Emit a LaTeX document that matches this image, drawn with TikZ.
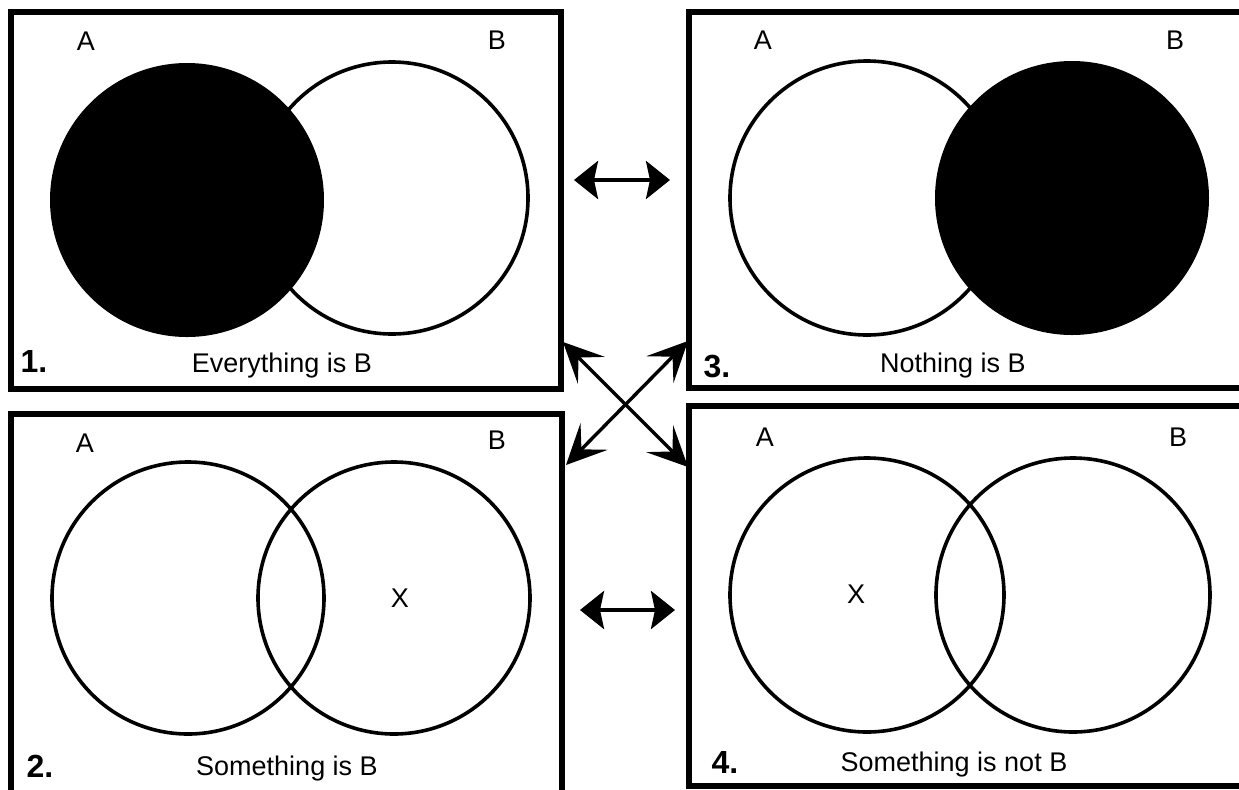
\documentclass[tikz,border=0pt]{standalone}
\usepackage{fontspec}
\setmainfont{Liberation Sans}
\usetikzlibrary{arrows.meta}

\begin{document}
\begin{tikzpicture}[x=0.5pt,y=-0.5pt,
  panel/.style={line width=2.6pt},
  ring/.style={line width=1.8pt},
  lbl/.style={font=\fontsize{13.5}{16}\selectfont, anchor=base},
  num/.style={font=\fontsize{16}{19}\selectfont\bfseries, anchor=base},
  hlink/.style={line width=2pt,
    {Stealth[length=12pt,width=19pt,inset=2pt]}-{Stealth[length=12pt,width=19pt,inset=2pt]}},
  xlink/.style={line width=1.7pt,
    {Stealth[length=20pt,width=19pt,inset=9pt]}-{Stealth[length=20pt,width=19pt,inset=9pt]}}]
  \useasboundingbox (0,0) rectangle (1239,789);

  % Panels
  \draw[panel] (11,12) rectangle (561,389);
  \draw[panel] (11,414) rectangle (562,800);
  \draw[panel] (689,12) rectangle (1244,388);
  \draw[panel] (689,406) rectangle (1244,786);

  % 1. Everything is B
  \draw[ring] (392,198) circle (136);
  \fill (187,200) circle (137);
  \node[lbl] (a1) at (86,50) {A};
  \node[lbl] (b1) at (497,49) {B};
  \node[num] (n1) at (34,372) {1.};
  \node[lbl] (t1) at (282,372) {Everything is B};

  % 3. Nothing is B
  \draw[ring] (867,198) circle (137);
  \fill (1072,198) circle (137);
  \node[lbl] (a3) at (763,49) {A};
  \node[lbl] (b3) at (1175,49) {B};
  \node[num] (n3) at (717,377) {3.};
  \node[lbl] (t3) at (953,372) {Nothing is B};

  % 2. Something is B
  \draw[ring] (188,598) circle (136);
  \draw[ring] (394,598) circle (136);
  \node[lbl] (a2) at (85,452) {A};
  \node[lbl] (b2) at (497,449) {B};
  \node[lbl] (x2) at (400,607) {X};
  \node[num] (n2) at (40,777) {2.};
  \node[lbl] (t2) at (287,775) {Something is B};

  % 4. Something is not B
  \draw[ring] (867,595) circle (137);
  \draw[ring] (1073,595) circle (137);
  \node[lbl] (a4) at (765,446) {A};
  \node[lbl] (b4) at (1178,446) {B};
  \node[lbl] (x4) at (856,603) {X};
  \node[num] (n4) at (725,773) {4.};
  \node[lbl] (t4) at (954,771) {Something is not B};

  % Arrows
  \coordinate (h1) at (574,180);
  \coordinate (h3) at (670,180);
  \coordinate (h2) at (580,610);
  \coordinate (h4) at (675,610);
  \coordinate (d1) at (563,342);
  \coordinate (d4) at (688,467);
  \coordinate (d3) at (688,341);
  \coordinate (d2) at (566,465);
  \draw[hlink] (h1) -- (h3);
  \draw[hlink] (h2) -- (h4);
  \draw[xlink] (d1) -- (d4);
  \draw[xlink] (d3) -- (d2);
\end{tikzpicture}
\end{document}
